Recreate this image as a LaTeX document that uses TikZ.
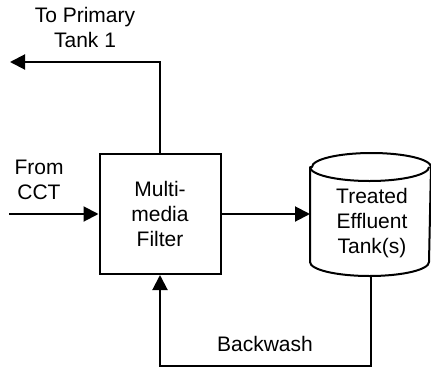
\documentclass[tikz,border=0pt]{standalone}
\usepackage{fontspec}
\setmainfont{Liberation Sans}
\usetikzlibrary{arrows.meta}
\begin{document}
\begin{tikzpicture}[x=1pt,y=-1pt,
  line width=2pt,
  flow/.style={-{Triangle[length=15pt,width=15pt]}},
  lbl/.style={align=center,font=\fontsize{21pt}{25pt}\selectfont,inner sep=0pt},
  unit/.style={draw,rectangle,minimum width=121pt,minimum height=120pt,
    align=center,font=\fontsize{21pt}{25pt}\selectfont,inner sep=0pt},
  tank/.style={rectangle,minimum width=119pt,minimum height=121pt,inner sep=0pt}]
\useasboundingbox (0,0) rectangle (431,367);

% process units
\node[unit] (filter) at (160,214) {Multi-\\media\\Filter};
\node[tank] (tank) at (370.5,214.5) {};

% tank outline drawn as a cylinder around the tank node
\draw[line join=round]
  ([yshift=-14pt]tank.north west) -- ([yshift=14pt]tank.south west)
  arc[start angle=180,end angle=360,x radius=59.5pt,y radius=14pt]
  -- ([yshift=-14pt]tank.north east)
  arc[start angle=0,end angle=180,x radius=59.5pt,y radius=14pt] -- cycle;
\draw ([yshift=-14pt]tank.north west)
  arc[start angle=180,end angle=360,x radius=59.5pt,y radius=14pt];
\node[lbl] (tanklbl) at (372,223) {Treated\\Effluent\\Tank(s)};

% free ends of the inlet and outlet lines
\coordinate (inlet) at (9,214);
\coordinate (outlet) at (10,62);

% labels
\node[lbl] (tolbl) at (85,27) {To Primary\\Tank 1};
\node[lbl] (fromlbl) at (39,180) {From\\CCT};
\node[lbl] (bwlbl) at (265,344) {Backwash};

% flows
\draw[flow] (filter.north) |- (outlet);
\draw[flow] (inlet) -- (filter.west);
\draw[flow] (filter.east) -- (filter.east -| tank.west);
\draw[flow] (tank.south) -- ++(0,90) -| (filter.south);
\end{tikzpicture}
\end{document}
